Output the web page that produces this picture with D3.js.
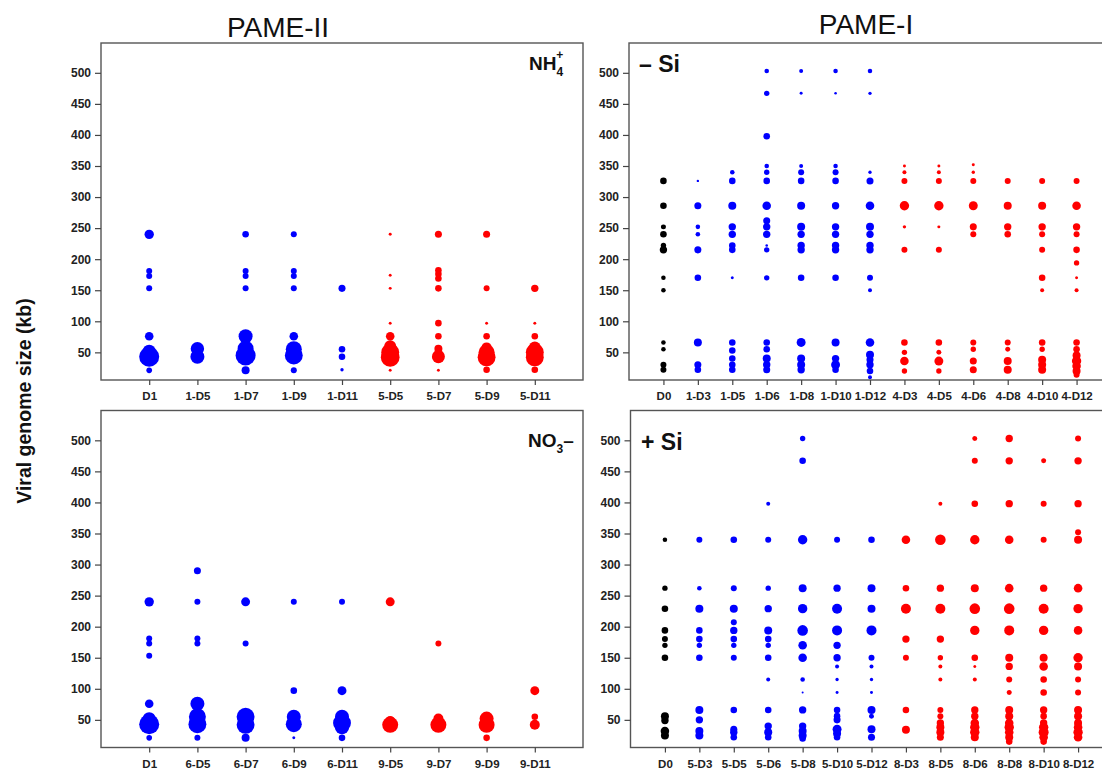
<!DOCTYPE html>
<html>
<head>
<meta charset="utf-8">
<script src="https://cdn.jsdelivr.net/npm/d3@7"></script>
<style>
  html, body { margin: 0; padding: 0; background: #fff; }
  svg text { font-family: Arial, "Liberation Sans", Helvetica, sans-serif; }
</style>
</head>
<body>
<svg id="chart" width="1102" height="773"></svg>
<script>
// ---------------- DATA ----------------
// y ticks (viral genome size, kb)
const yTicks = [50, 100, 150, 200, 250, 300, 350, 400, 450, 500];

// group per sample: 0 = initial (black), 1 = first treatment (blue), 2 = second treatment (red)
// Points: [sample, genome size (kb), relative abundance]

// PAME-II, NH4+
const nh4Categories = ["D1", "1-D5", "1-D7", "1-D9", "1-D11", "5-D5", "5-D7", "5-D9", "5-D11"];
const nh4Groups = [1, 1, 1, 1, 1, 2, 2, 2, 2];
const nh4Points = [
  ["D1", 240, 5.5], ["D1", 181, 2.25], ["D1", 173, 2.25], ["D1", 153, 2.25], ["D1", 76, 4.6], ["D1", 52, 10.5], ["D1", 43, 25], ["D1", 21, 2],
  ["1-D5", 56, 11.2], ["1-D5", 43, 12.25],
  ["1-D7", 240, 2.7], ["1-D7", 181, 2.25], ["1-D7", 173, 2.25], ["1-D7", 153, 2.25], ["1-D7", 76, 12.25], ["1-D7", 56, 16], ["1-D7", 45, 25], ["1-D7", 21, 4],
  ["1-D9", 240, 2.25], ["1-D9", 181, 2.25], ["1-D9", 173, 2.25], ["1-D9", 153, 2.25], ["1-D9", 76, 4.6], ["1-D9", 55, 16], ["1-D9", 45, 20], ["1-D9", 21, 2.25],
  ["1-D11", 153, 3.1], ["1-D11", 55, 2.7], ["1-D11", 43, 2.7], ["1-D11", 22, 0.7],
  ["5-D5", 240, 0.56], ["5-D5", 174, 0.56], ["5-D5", 153, 0.56], ["5-D5", 97, 0.56], ["5-D5", 76, 4.6], ["5-D5", 60, 9], ["5-D5", 50, 20], ["5-D5", 42, 22], ["5-D5", 21, 0.56],
  ["5-D7", 240, 3.1], ["5-D7", 182, 2.7], ["5-D7", 176, 2.7], ["5-D7", 169, 2.7], ["5-D7", 153, 2.7], ["5-D7", 97, 2.7], ["5-D7", 76, 2.7], ["5-D7", 56, 4], ["5-D7", 48, 5], ["5-D7", 43, 10.5], ["5-D7", 21, 0.56],
  ["5-D9", 240, 3.1], ["5-D9", 153, 2.25], ["5-D9", 97, 0.56], ["5-D9", 76, 2.7], ["5-D9", 58, 6.25], ["5-D9", 50, 16], ["5-D9", 42, 20], ["5-D9", 22, 2.7],
  ["5-D11", 153, 3.4], ["5-D11", 97, 0.56], ["5-D11", 76, 2.7], ["5-D11", 58, 9], ["5-D11", 50, 20], ["5-D11", 42, 20], ["5-D11", 22, 2.7]
];

// PAME-II, NO3-
const no3Categories = ["D1", "6-D5", "6-D7", "6-D9", "6-D11", "9-D5", "9-D7", "9-D9", "9-D11"];
const no3Groups = [1, 1, 1, 1, 1, 2, 2, 2, 2];
const no3Points = [
  ["D1", 240, 5.5], ["D1", 181, 2.25], ["D1", 173, 2.25], ["D1", 153, 2.25], ["D1", 76, 4.6], ["D1", 52, 10.5], ["D1", 43, 25], ["D1", 21, 2],
  ["6-D5", 290, 3.1], ["6-D5", 240, 2.25], ["6-D5", 181, 2.25], ["6-D5", 173, 2.25], ["6-D5", 76, 12.25], ["6-D5", 55, 18], ["6-D5", 43, 20], ["6-D5", 21, 2.25],
  ["6-D7", 240, 5], ["6-D7", 173, 2.25], ["6-D7", 55, 20], ["6-D7", 42, 20], ["6-D7", 21, 4],
  ["6-D9", 240, 2.25], ["6-D9", 97, 2.7], ["6-D9", 55, 12.25], ["6-D9", 43, 16], ["6-D9", 21, 0.56],
  ["6-D11", 240, 2.25], ["6-D11", 97, 5], ["6-D11", 55, 12.25], ["6-D11", 45, 20], ["6-D11", 38, 12.25], ["6-D11", 21, 2.7],
  ["9-D5", 240, 5], ["9-D5", 48, 6.25], ["9-D5", 42, 16],
  ["9-D7", 173, 2.25], ["9-D7", 52, 6.25], ["9-D7", 42, 16],
  ["9-D9", 52, 12.25], ["9-D9", 42, 16], ["9-D9", 21, 2.7],
  ["9-D11", 97, 5], ["9-D11", 55, 2.7], ["9-D11", 42, 6.25]
];

// PAME-I, -Si
const minusSiCategories = ["D0", "1-D3", "1-D5", "1-D6", "1-D8", "1-D10", "1-D12", "4-D3", "4-D5", "4-D6", "4-D8", "4-D10", "4-D12"];
const minusSiGroups = [0, 1, 1, 1, 1, 1, 1, 2, 2, 2, 2, 2, 2];
const minusSiPoints = [
  ["D0", 326, 2.7], ["D0", 286, 2.7], ["D0", 252, 1.56], ["D0", 240, 2.7], ["D0", 222, 1.8], ["D0", 215, 3.4], ["D0", 170, 1.3], ["D0", 150, 1.3], ["D0", 66, 1.3], ["D0", 55, 1.3], ["D0", 30, 2.25], ["D0", 22, 2.25],
  ["1-D3", 326, 0.36], ["1-D3", 286, 3.1], ["1-D3", 252, 1.3], ["1-D3", 240, 1.3], ["1-D3", 215, 3.1], ["1-D3", 170, 2.7], ["1-D3", 66, 4], ["1-D3", 30, 3.1], ["1-D3", 22, 2.7],
  ["1-D5", 340, 1.3], ["1-D5", 326, 2.7], ["1-D5", 286, 4], ["1-D5", 252, 3.4], ["1-D5", 240, 3.4], ["1-D5", 222, 2.7], ["1-D5", 215, 2.7], ["1-D5", 170, 0.56], ["1-D5", 66, 2.7], ["1-D5", 53, 2.7], ["1-D5", 40, 2.7], ["1-D5", 30, 2.7], ["1-D5", 22, 2.7],
  ["1-D6", 503, 1.3], ["1-D6", 467, 1.8], ["1-D6", 398, 2.7], ["1-D6", 350, 1.3], ["1-D6", 340, 1.8], ["1-D6", 326, 2.7], ["1-D6", 286, 4.6], ["1-D6", 262, 3.1], ["1-D6", 252, 3.4], ["1-D6", 240, 3.4], ["1-D6", 222, 0.42], ["1-D6", 215, 1.8], ["1-D6", 170, 1.8], ["1-D6", 66, 2.7], ["1-D6", 55, 2.7], ["1-D6", 40, 4], ["1-D6", 30, 3.4], ["1-D6", 22, 3.1],
  ["1-D8", 503, 1], ["1-D8", 467, 0.56], ["1-D8", 350, 1], ["1-D8", 340, 2.25], ["1-D8", 326, 2.7], ["1-D8", 286, 4], ["1-D8", 252, 4], ["1-D8", 240, 3.4], ["1-D8", 222, 3.4], ["1-D8", 215, 3.4], ["1-D8", 170, 2.7], ["1-D8", 66, 5], ["1-D8", 40, 4], ["1-D8", 30, 4], ["1-D8", 22, 3.4],
  ["1-D10", 503, 1.3], ["1-D10", 467, 0.42], ["1-D10", 350, 1.3], ["1-D10", 340, 2.25], ["1-D10", 326, 2.7], ["1-D10", 286, 3.4], ["1-D10", 252, 3.4], ["1-D10", 240, 3.4], ["1-D10", 222, 3.4], ["1-D10", 215, 3.4], ["1-D10", 170, 2.7], ["1-D10", 66, 4], ["1-D10", 40, 3.4], ["1-D10", 30, 5], ["1-D10", 22, 2.7],
  ["1-D12", 503, 1.3], ["1-D12", 467, 0.7], ["1-D12", 340, 0.7], ["1-D12", 326, 3.1], ["1-D12", 286, 4.6], ["1-D12", 252, 4], ["1-D12", 240, 3.4], ["1-D12", 222, 3.4], ["1-D12", 215, 3.4], ["1-D12", 170, 2.25], ["1-D12", 150, 1], ["1-D12", 66, 4.6], ["1-D12", 46, 4], ["1-D12", 38, 3.1], ["1-D12", 30, 3.4], ["1-D12", 20, 2.7], ["1-D12", 10, 1],
  ["4-D3", 350, 0.56], ["4-D3", 340, 1], ["4-D3", 326, 2.25], ["4-D3", 286, 5.5], ["4-D3", 252, 0.7], ["4-D3", 215, 2.25], ["4-D3", 66, 2.7], ["4-D3", 50, 1.8], ["4-D3", 36, 4.6], ["4-D3", 20, 1.8],
  ["4-D5", 350, 0.56], ["4-D5", 340, 1], ["4-D5", 326, 2.25], ["4-D5", 286, 5.5], ["4-D5", 252, 0.56], ["4-D5", 215, 2.25], ["4-D5", 66, 2.7], ["4-D5", 50, 1.56], ["4-D5", 36, 5], ["4-D5", 20, 1.8],
  ["4-D6", 352, 0.56], ["4-D6", 340, 0.7], ["4-D6", 326, 2.25], ["4-D6", 286, 5], ["4-D6", 252, 3.1], ["4-D6", 240, 2.25], ["4-D6", 66, 2.25], ["4-D6", 55, 1.8], ["4-D6", 36, 3.1], ["4-D6", 22, 3.1],
  ["4-D8", 326, 2.25], ["4-D8", 286, 4], ["4-D8", 252, 3.4], ["4-D8", 240, 2.7], ["4-D8", 66, 2.25], ["4-D8", 55, 1.56], ["4-D8", 36, 4], ["4-D8", 22, 4],
  ["4-D10", 326, 2.25], ["4-D10", 286, 4], ["4-D10", 252, 3.4], ["4-D10", 240, 2.25], ["4-D10", 215, 2.25], ["4-D10", 170, 2.7], ["4-D10", 150, 1], ["4-D10", 66, 2.7], ["4-D10", 55, 1.8], ["4-D10", 38, 4], ["4-D10", 30, 4], ["4-D10", 22, 4],
  ["4-D12", 326, 2.25], ["4-D12", 286, 4.6], ["4-D12", 252, 3.4], ["4-D12", 240, 2.25], ["4-D12", 215, 2.7], ["4-D12", 194, 1.8], ["4-D12", 170, 0.56], ["4-D12", 150, 1], ["4-D12", 66, 2.7], ["4-D12", 55, 2.7], ["4-D12", 45, 4], ["4-D12", 36, 5.5], ["4-D12", 28, 4.6], ["4-D12", 20, 4], ["4-D12", 14, 2.25]
];

// PAME-I, +Si
const plusSiCategories = ["D0", "5-D3", "5-D5", "5-D6", "5-D8", "5-D10", "5-D12", "8-D3", "8-D5", "8-D6", "8-D8", "8-D10", "8-D12"];
const plusSiGroups = [0, 1, 1, 1, 1, 1, 1, 2, 2, 2, 2, 2, 2];
const plusSiPoints = [
  ["D0", 340, 1.3], ["D0", 262, 1.8], ["D0", 229, 2.7], ["D0", 194, 2.7], ["D0", 180, 2.25], ["D0", 170, 1.8], ["D0", 150, 2.7], ["D0", 56, 4], ["D0", 49, 3.4], ["D0", 32, 4.6], ["D0", 25, 4],
  ["5-D3", 340, 2.25], ["5-D3", 262, 1.3], ["5-D3", 229, 4], ["5-D3", 194, 2.7], ["5-D3", 180, 2.7], ["5-D3", 170, 1.8], ["5-D3", 150, 2.7], ["5-D3", 66, 4], ["5-D3", 50, 3.4], ["5-D3", 32, 4], ["5-D3", 25, 4],
  ["5-D5", 340, 2.7], ["5-D5", 262, 2.25], ["5-D5", 229, 4], ["5-D5", 207, 2.25], ["5-D5", 194, 3.4], ["5-D5", 180, 2.7], ["5-D5", 170, 1.8], ["5-D5", 150, 2.25], ["5-D5", 66, 2.7], ["5-D5", 35, 3.1], ["5-D5", 30, 3.4], ["5-D5", 22, 2.7],
  ["5-D6", 398, 1], ["5-D6", 340, 2.25], ["5-D6", 262, 1.8], ["5-D6", 229, 3.4], ["5-D6", 194, 4], ["5-D6", 180, 2.7], ["5-D6", 170, 1.8], ["5-D6", 150, 2.7], ["5-D6", 115, 1], ["5-D6", 66, 2.7], ["5-D6", 40, 3.4], ["5-D6", 30, 4], ["5-D6", 22, 2.7],
  ["5-D8", 503, 1.8], ["5-D8", 467, 2.7], ["5-D8", 340, 5.5], ["5-D8", 262, 4], ["5-D8", 229, 5.5], ["5-D8", 194, 7], ["5-D8", 170, 4.6], ["5-D8", 150, 4.6], ["5-D8", 115, 1.3], ["5-D8", 94, 0.25], ["5-D8", 66, 3.4], ["5-D8", 40, 3.4], ["5-D8", 32, 4], ["5-D8", 25, 4], ["5-D8", 20, 2.7],
  ["5-D10", 340, 2.25], ["5-D10", 262, 3.4], ["5-D10", 229, 6.25], ["5-D10", 194, 6.25], ["5-D10", 170, 3.4], ["5-D10", 150, 3.4], ["5-D10", 136, 1], ["5-D10", 115, 0.7], ["5-D10", 94, 0.56], ["5-D10", 66, 2.7], ["5-D10", 56, 2.7], ["5-D10", 50, 3.1], ["5-D10", 35, 5], ["5-D10", 28, 4], ["5-D10", 22, 2.7],
  ["5-D12", 340, 2.7], ["5-D12", 262, 4], ["5-D12", 229, 4], ["5-D12", 194, 6.25], ["5-D12", 150, 2.25], ["5-D12", 136, 1], ["5-D12", 115, 0.7], ["5-D12", 94, 0.56], ["5-D12", 66, 4], ["5-D12", 56, 1.56], ["5-D12", 35, 4], ["5-D12", 22, 3.1],
  ["8-D3", 340, 4.6], ["8-D3", 262, 2.7], ["8-D3", 229, 6.25], ["8-D3", 180, 3.4], ["8-D3", 150, 2.25], ["8-D3", 66, 2.7], ["8-D3", 34, 4],
  ["8-D5", 398, 1], ["8-D5", 340, 7], ["8-D5", 262, 3.4], ["8-D5", 229, 6.25], ["8-D5", 180, 3.4], ["8-D5", 150, 1.8], ["8-D5", 136, 1], ["8-D5", 115, 1], ["8-D5", 66, 2.25], ["8-D5", 56, 2.25], ["8-D5", 45, 3.4], ["8-D5", 38, 4], ["8-D5", 30, 4], ["8-D5", 22, 3.1],
  ["8-D6", 503, 1.56], ["8-D6", 467, 2.25], ["8-D6", 398, 2.7], ["8-D6", 340, 5.5], ["8-D6", 262, 4], ["8-D6", 229, 7], ["8-D6", 194, 5.5], ["8-D6", 150, 2.7], ["8-D6", 136, 0.56], ["8-D6", 115, 1], ["8-D6", 66, 3.4], ["8-D6", 56, 3.4], ["8-D6", 45, 4.6], ["8-D6", 38, 5.5], ["8-D6", 30, 5.5], ["8-D6", 22, 4],
  ["8-D8", 503, 3.4], ["8-D8", 467, 3.4], ["8-D8", 398, 3.4], ["8-D8", 340, 4.6], ["8-D8", 262, 4.6], ["8-D8", 229, 7], ["8-D8", 194, 6.25], ["8-D8", 150, 4], ["8-D8", 136, 3.4], ["8-D8", 115, 2.25], ["8-D8", 94, 1.56], ["8-D8", 66, 4], ["8-D8", 56, 4], ["8-D8", 45, 4.6], ["8-D8", 38, 5.5], ["8-D8", 30, 4.6], ["8-D8", 22, 4], ["8-D8", 15, 2.7],
  ["8-D10", 467, 1.56], ["8-D10", 398, 2.25], ["8-D10", 340, 2.25], ["8-D10", 262, 3.4], ["8-D10", 229, 6.25], ["8-D10", 194, 5.5], ["8-D10", 150, 4], ["8-D10", 136, 4.6], ["8-D10", 115, 2.7], ["8-D10", 94, 2.7], ["8-D10", 66, 3.4], ["8-D10", 56, 2.7], ["8-D10", 45, 3.4], ["8-D10", 38, 5.5], ["8-D10", 30, 6.25], ["8-D10", 22, 4.6], ["8-D10", 15, 2.7],
  ["8-D12", 503, 2.25], ["8-D12", 467, 3.4], ["8-D12", 398, 3.4], ["8-D12", 352, 2.25], ["8-D12", 340, 4], ["8-D12", 262, 4.6], ["8-D12", 229, 5.5], ["8-D12", 194, 4.6], ["8-D12", 150, 5.5], ["8-D12", 136, 4], ["8-D12", 115, 2.25], ["8-D12", 94, 2.25], ["8-D12", 66, 4], ["8-D12", 56, 4], ["8-D12", 45, 4], ["8-D12", 38, 4.6], ["8-D12", 30, 5.5], ["8-D12", 22, 4.6]
];

// ---------------- DRAWING ----------------
const svg = d3.select("#chart");
const groupColor = ["#000000", "#0000ff", "#ff0000"];
const rScale = d3.scaleSqrt().domain([0, 36]).range([0, 12]);
const PW = 482, PH = 337;
const yDomain = [5.5, 548];

const panels = [
  { cats: nh4Categories, groups: nh4Groups, pts: nh4Points, x0: 101, y0: 43 },
  { cats: no3Categories, groups: no3Groups, pts: no3Points, x0: 101, y0: 410.5 },
  { cats: minusSiCategories, groups: minusSiGroups, pts: minusSiPoints, x0: 629, y0: 43 },
  { cats: plusSiCategories, groups: plusSiGroups, pts: plusSiPoints, x0: 630.5, y0: 410.5 }
];

panels.forEach(p => {
  const n = p.cats.length;
  const x = d3.scaleLinear().domain([-1, n]).range([p.x0, p.x0 + PW]);
  const y = d3.scaleLinear().domain(yDomain).range([p.y0 + PH, p.y0]);
  const g = svg.append("g");

  // points
  g.append("g").selectAll("circle")
    .data(p.pts)
    .join("circle")
    .attr("cx", d => x(p.cats.indexOf(d[0])))
    .attr("cy", d => y(d[1]))
    .attr("r", d => rScale(d[2]))
    .attr("fill", d => groupColor[p.groups[p.cats.indexOf(d[0])]]);

  // frame
  g.append("rect")
    .attr("x", p.x0).attr("y", p.y0)
    .attr("width", PW).attr("height", PH)
    .attr("fill", "none").attr("stroke", "#555").attr("stroke-width", 1.4);

  // y axis
  const ya = g.append("g").attr("transform", `translate(${p.x0},0)`)
    .call(d3.axisLeft(y).tickValues(yTicks).tickSize(6).tickPadding(4));
  ya.select(".domain").remove();
  ya.selectAll(".tick line").attr("stroke", "#444").attr("stroke-width", 1.2);
  ya.selectAll(".tick text").attr("font-size", 12).attr("font-weight", "bold").attr("fill", "#222")
    .style("font-family", "Arial, 'Liberation Sans', sans-serif");

  // x axis
  const xa = g.append("g").attr("transform", `translate(0,${p.y0 + PH})`)
    .call(d3.axisBottom(x).tickValues(d3.range(n)).tickFormat(i => p.cats[i]).tickSize(5).tickPadding(7));
  xa.select(".domain").remove();
  xa.selectAll(".tick line").attr("stroke", "#444").attr("stroke-width", 1.2);
  xa.selectAll(".tick text").attr("font-size", 11.5).attr("font-weight", "bold").attr("fill", "#222")
    .style("font-family", "Arial, 'Liberation Sans', sans-serif");
});

// Titles
svg.append("text").attr("x", 278).attr("y", 37).attr("text-anchor", "middle")
  .attr("font-size", 28).attr("fill", "#111").text("PAME-II");
svg.append("text").attr("x", 866).attr("y", 34).attr("text-anchor", "middle")
  .attr("font-size", 28).attr("fill", "#111").text("PAME-I");

// Y axis title
svg.append("text")
  .attr("transform", "translate(31,401) rotate(-90)")
  .attr("text-anchor", "middle").attr("font-size", 19.5).attr("font-weight", "bold").attr("fill", "#111")
  .text("Viral genome size (kb)");

// Panel labels
const nh = svg.append("text").attr("x", 529).attr("y", 70).attr("font-size", 19).attr("font-weight", "bold").attr("fill", "#111");
nh.append("tspan").text("NH");
nh.append("tspan").attr("font-size", 12).attr("dy", 6).text("4");
nh.append("tspan").attr("font-size", 12).attr("dx", -7).attr("dy", -17).text("+");

const no = svg.append("text").attr("x", 528).attr("y", 447).attr("font-size", 19).attr("font-weight", "bold").attr("fill", "#111");
no.append("tspan").text("NO");
no.append("tspan").attr("font-size", 12).attr("dy", 6).text("3");
no.append("tspan").attr("dy", -6).text("\u2013");

svg.append("text").attr("x", 639).attr("y", 72).attr("font-size", 23).attr("font-weight", "bold").attr("fill", "#111").text("\u2013 Si");
svg.append("text").attr("x", 641).attr("y", 450).attr("font-size", 23).attr("font-weight", "bold").attr("fill", "#111").text("+ Si");
</script>
</body>
</html>
